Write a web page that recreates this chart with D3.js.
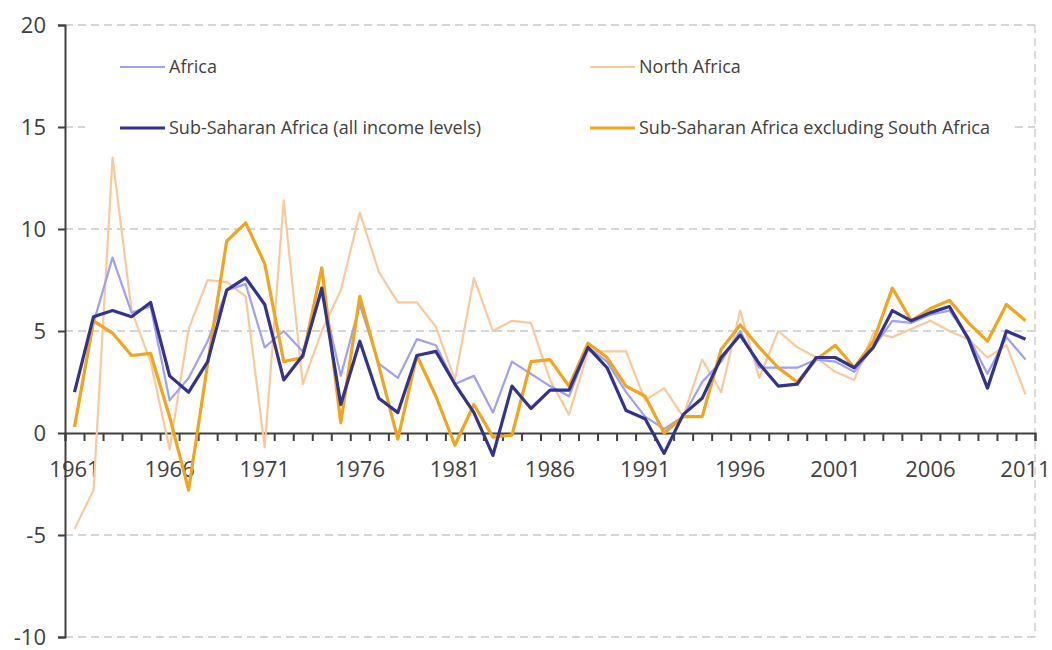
<!DOCTYPE html>
<html lang="en">
<head>
<meta charset="UTF-8">
<title>Africa growth</title>
<script src="https://cdn.jsdelivr.net/npm/d3@7"></script>
<style>
  body { margin: 0; background: #fff; }
  svg text { font-family: "Open Sans", sans-serif; fill: #404040; }
</style>
</head>
<body>
<div id="chart"></div>
<script>
// years on the category axis
const years = d3.range(1961, 2012);
const yTicks = [-10, -5, 0, 5, 10, 15, 20];

// series values
const africa = [0.3, 5.4, 8.6, 5.9, 6.2, 1.6, 2.7, 4.5, 7.0, 7.3,
  4.2, 5.0, 4.0, 6.9, 2.8, 6.3, 3.4, 2.7, 4.6, 4.3,
  2.4, 2.8, 1.0, 3.5, 2.9, 2.3, 1.8, 4.2, 3.5, 2.0,
  0.8, 0.2, 0.8, 2.5, 3.5, 5.0, 3.2, 3.2, 3.2, 3.6,
  3.5, 3.0, 4.2, 5.5, 5.4, 5.8, 6.0, 4.7, 2.9, 4.7, 3.6];

const northAfrica = [-4.7, -2.8, 13.5, 6.0, 3.5, -0.8, 5.1, 7.5, 7.4, 6.7,
  -0.7, 11.4, 2.4, 5.0, 7.0, 10.8, 7.9, 6.4, 6.4, 5.2,
  2.6, 7.6, 5.0, 5.5, 5.4, 2.6, 0.9, 4.0, 4.0, 4.0,
  1.6, 2.2, 0.8, 3.6, 2.0, 6.0, 2.7, 5.0, 4.2, 3.7,
  3.0, 2.6, 4.9, 4.7, 5.1, 5.5, 5.0, 4.6, 3.7, 4.3, 1.9];

const ssa = [2.0, 5.7, 6.0, 5.7, 6.4, 2.8, 2.0, 3.5, 7.0, 7.6,
  6.3, 2.6, 3.8, 7.1, 1.4, 4.5, 1.7, 1.0, 3.8, 4.0,
  2.4, 1.0, -1.1, 2.3, 1.2, 2.1, 2.1, 4.2, 3.2, 1.1,
  0.7, -1.0, 0.9, 1.7, 3.7, 4.8, 3.4, 2.3, 2.4, 3.7,
  3.7, 3.2, 4.2, 6.0, 5.5, 5.9, 6.2, 4.6, 2.2, 5.0, 4.6];

const ssaExSA = [0.3, 5.5, 4.9, 3.8, 3.9, 0.8, -2.8, 3.4, 9.4, 10.3,
  8.3, 3.5, 3.7, 8.1, 0.5, 6.7, 3.3, -0.3, 3.8, 1.8,
  -0.6, 1.4, -0.2, -0.1, 3.5, 3.6, 2.3, 4.4, 3.7, 2.3,
  1.8, 0.0, 0.8, 0.8, 4.1, 5.3, 4.2, 3.2, 2.5, 3.6,
  4.3, 3.2, 4.5, 7.1, 5.5, 6.1, 6.5, 5.4, 4.5, 6.3, 5.5];

const seriesNames = ["Africa", "North Africa", "Sub-Saharan Africa (all income levels)", "Sub-Saharan Africa excluding South Africa"];
const seriesColors = ["#9f9ff5", "#f9c99b", "#33338c", "#f0a51c"];
const seriesWidths = [2.2, 2.2, 3.2, 3.2];
const seriesValues = [africa, northAfrica, ssa, ssaExSA];

const W = 1052, H = 650;
const pLeft = 65, pRight = 1035, pTop = 25, pBottom = 637;
// legend box area (white, hides the grid behind it)
const boxL = 85, boxR = 1015, boxT = 40, boxB = 160;

const svg = d3.select("#chart").append("svg")
  .attr("width", W).attr("height", H);

const x = d3.scaleBand().domain(years).range([pLeft, pRight]);
const xIdx = d3.scaleLinear().domain([0, years.length]).range([pLeft, pRight]);
const y = d3.scaleLinear().domain([-10, 20]).range([pBottom, pTop]);

// dashed gridlines, split where the legend box sits
const gridSegs = [];
yTicks.filter(d => d !== 0).forEach(d => {
  const yy = y(d);
  if (yy > boxT && yy < boxB) {
    gridSegs.push({ v: d, x1: pLeft, x2: boxL });
    gridSegs.push({ v: d, x1: boxR, x2: pRight });
  } else {
    gridSegs.push({ v: d, x1: pLeft, x2: pRight });
  }
});
svg.append("g").selectAll("line")
  .data(gridSegs)
  .join("line")
  .attr("x1", d => d.x1).attr("x2", d => d.x2)
  .attr("y1", d => y(d.v)).attr("y2", d => y(d.v))
  .attr("stroke", "#c8c8c8").attr("stroke-width", 1.5)
  .attr("stroke-dasharray", "8,5");

// right border, dashed
svg.append("line")
  .attr("x1", pRight).attr("x2", pRight)
  .attr("y1", pTop).attr("y2", pBottom)
  .attr("stroke", "#d0d0d0").attr("stroke-width", 1.5)
  .attr("stroke-dasharray", "8,5");

// y axis
const yAxis = svg.append("g")
  .attr("transform", `translate(${pLeft},0)`)
  .call(d3.axisLeft(y).tickValues(yTicks).tickSize(7).tickPadding(12).tickFormat(d => String(d)));
yAxis.selectAll("text").style("font-size", "22px");
yAxis.selectAll("line, path").attr("stroke", "#404040").attr("stroke-width", 2);

// x axis: ticks at category boundaries
const xTicks = svg.append("g")
  .attr("transform", `translate(0,${y(0)})`)
  .call(d3.axisBottom(xIdx).tickValues(d3.range(years.length + 1)).tickSize(8).tickFormat(""));
xTicks.selectAll("line, path").attr("stroke", "#404040").attr("stroke-width", 2);

// x labels every 5 years
const xLabels = svg.append("g")
  .attr("transform", `translate(0,${y(0)})`)
  .call(d3.axisBottom(x).tickValues(years.filter(d => (d - 1961) % 5 === 0)).tickSize(0).tickPadding(28));
xLabels.select(".domain").remove();
xLabels.selectAll("text").style("font-size", "22px");

// lines
const line = d3.line()
  .x((d, i) => x(years[i]) + x.bandwidth() / 2)
  .y(d => y(d));

const order = [1, 0, 3, 2];
order.forEach(k => {
  svg.append("path")
    .datum(seriesValues[k])
    .attr("fill", "none")
    .attr("stroke", seriesColors[k])
    .attr("stroke-width", seriesWidths[k])
    .attr("stroke-linejoin", "round")
    .attr("d", line);
});

// legend
const legendPos = [[120, 67], [590, 67], [120, 128], [590, 128]];
seriesNames.forEach((name, k) => {
  const [lx, ly] = legendPos[k];
  svg.append("line")
    .attr("x1", lx).attr("x2", lx + 45)
    .attr("y1", ly).attr("y2", ly)
    .attr("stroke", seriesColors[k])
    .attr("stroke-width", seriesWidths[k]);
  svg.append("text")
    .attr("x", lx + 49).attr("y", ly)
    .attr("dy", "0.35em")
    .style("font-size", "18px")
    .text(name);
});
</script>
</body>
</html>
